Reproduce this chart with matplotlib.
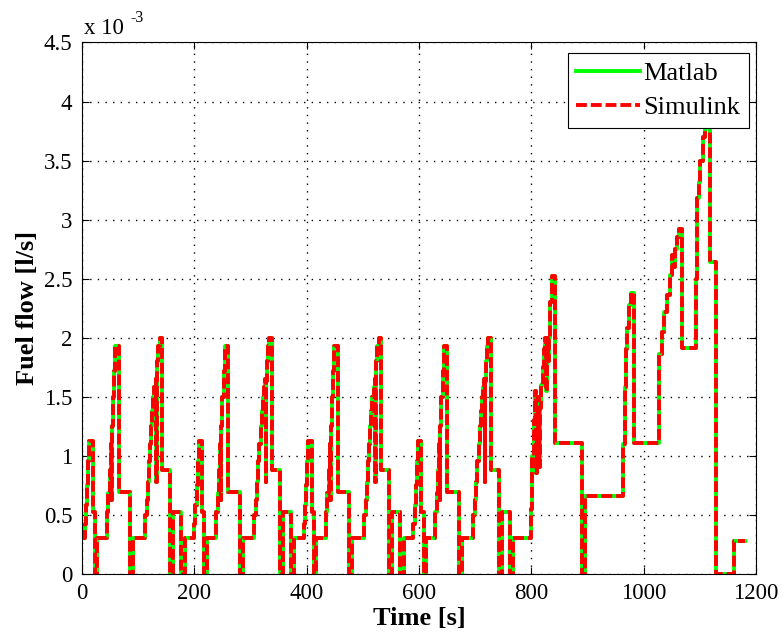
import numpy as np
import matplotlib
matplotlib.use('Agg')
import matplotlib.pyplot as plt

plt.rcParams['font.family'] = ['Liberation Serif', 'DejaVu Serif']

# fuel flow in units of 1e-3 l/s, step signal (value holds until next time)
# one urban (ECE) cycle, repeated at the start times below
ECE_T = [0, 5, 7, 9, 11, 13, 19, 23, 27,
         44, 47, 49, 51, 52, 53, 55, 57, 59, 65, 86, 91,
         112, 115, 117, 119, 121, 123, 125, 127, 129, 131, 132, 133, 134, 136, 138,
         143, 157, 162, 177, 183]
ECE_V = [0.30, 0.42, 0.58, 0.75, 0.95, 1.12, 0.52, 0.00, 0.30,
         0.52, 0.68, 0.88, 1.10, 0.62, 1.25, 1.50, 1.72, 1.93, 0.69, 0.00, 0.30,
         0.50, 0.62, 0.78, 0.95, 1.10, 1.25, 1.38, 1.50, 1.58, 1.65, 0.78, 1.63, 1.80, 1.93, 2.00,
         0.88, 0.00, 0.52, 0.00, 0.30]
ECE_STARTS = [0, 195, 390, 585]

# extra-urban part
EUDC_T = [780, 800, 802, 804, 806, 808, 810, 812, 814, 816, 818, 820, 822, 824,
          826, 828, 830, 832, 834, 836, 842, 890, 896,
          964, 966, 968, 971, 974, 977, 982,
          1028, 1032, 1037, 1042, 1046, 1050, 1053, 1056, 1060, 1063, 1068,
          1094, 1095, 1098, 1101, 1105, 1110, 1118, 1128, 1160]
EUDC_V = [0.30, 0.55, 1.00, 1.30, 1.55, 0.85, 1.20, 1.50, 0.90, 1.40, 1.60, 1.75, 1.90, 2.00,
          1.55, 2.00, 1.80, 2.00, 2.30, 2.52, 1.11, 0.00, 0.66,
          1.10, 1.58, 1.90, 2.08, 2.28, 2.38, 1.11,
          1.86, 2.05, 2.22, 2.36, 2.53, 2.70, 2.60, 2.75, 2.85, 2.92, 1.91,
          2.50, 3.18, 3.32, 3.50, 3.70, 3.80, 2.64, 0.00, 0.28]
T_END = 1180

X_TICKS = [0, 200, 400, 600, 800, 1000, 1200]
Y_TICKS = [0, 0.5, 1, 1.5, 2, 2.5, 3, 3.5, 4, 4.5]


def build_profile():
    ts = [np.array(ECE_T) + s for s in ECE_STARTS] + [np.array(EUDC_T), [T_END]]
    vs = [np.array(ECE_V)] * len(ECE_STARTS) + [np.array(EUDC_V), [EUDC_V[-1]]]
    return np.concatenate(ts), np.concatenate(vs)


def main():
    t, matlab = build_profile()
    simulink = matlab.copy()

    fig = plt.figure(figsize=(7.84, 6.37), dpi=100)
    ax = fig.add_axes([0.1046, 0.0995, 0.8597, 0.8338])

    ax.plot(t, matlab, drawstyle='steps-post', color=(0, 1, 0), lw=2.8,
            label='Matlab')
    red, = ax.plot(t, simulink, drawstyle='steps-post', color=(1, 0, 0), lw=2.8,
                   ls='--', label='Simulink')
    red.set_dashes((2.8, 1.0))

    ax.set_xlim(0, 1200)
    ax.set_ylim(0, 4.5)
    ax.set_xticks(X_TICKS)
    ax.set_yticks(Y_TICKS)
    ax.set_yticklabels(['%g' % v for v in Y_TICKS])
    ax.grid(True, color='black', ls=(0, (1, 4.5)), lw=1.0)
    ax.tick_params(direction='in', length=5, width=0.8, top=True, right=True,
                   labelsize=16.5, pad=7)
    for s in ax.spines.values():
        s.set_linewidth(0.8)

    ax.set_xlabel('Time [s]', fontsize=19, fontweight='bold', labelpad=2)
    ax.set_ylabel('Fuel flow [l/s]', fontsize=19, fontweight='bold', labelpad=3)

    # MATLAB-style exponent above the y axis
    fig.text(84 / 784, 1 - 34 / 637, 'x 10', fontsize=16.5, ha='left', va='baseline')
    fig.text(130 / 784, 1 - 22 / 637, '-3', fontsize=11.5, ha='left', va='baseline')

    leg = ax.legend(loc='upper right', bbox_to_anchor=(0.9896, 0.9802),
                    borderaxespad=0, fontsize=19, fancybox=False, framealpha=1,
                    edgecolor='black', handlelength=2.4, handletextpad=0.15,
                    borderpad=0.32, labelspacing=0.42)
    leg.get_frame().set_linewidth(0.8)

    fig.savefig('out.png', dpi=100)


if __name__ == '__main__':
    main()
